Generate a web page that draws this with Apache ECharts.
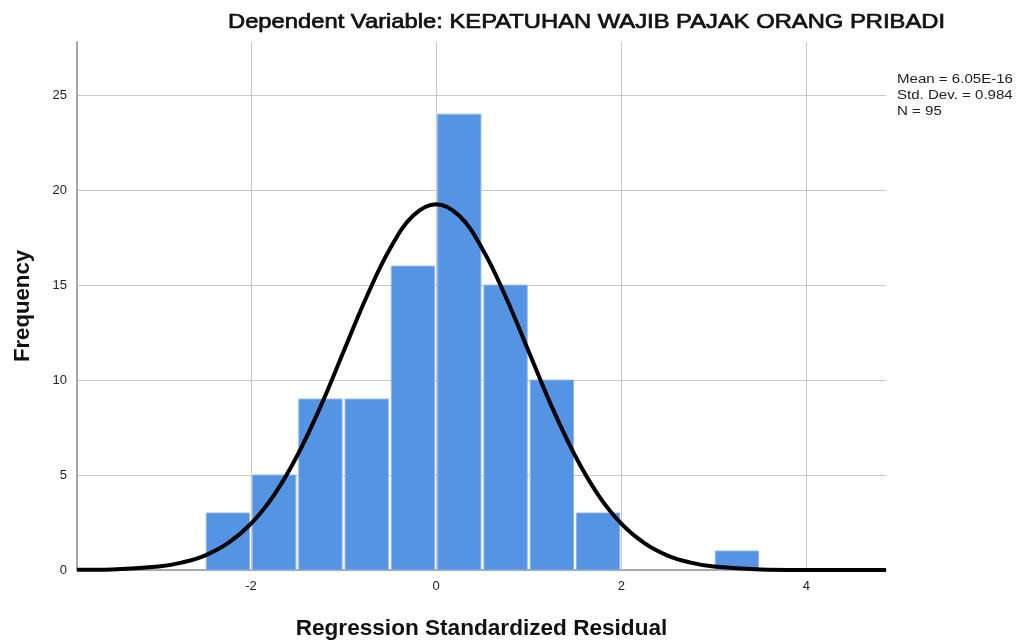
<!DOCTYPE html>
<html>
<head>
<meta charset="utf-8">
<script src="https://cdn.jsdelivr.net/npm/echarts@6/dist/echarts.min.js"></script>
<style>html,body{margin:0;padding:0;background:#fff;}#c{width:1017px;height:641px;}</style>
</head>
<body>
<div id="c"></div>
<script>
// Histogram bins: [start, end]
const binStarts = [-2.5, -2.0, -1.5, -1.0, -0.5, 0.0, 0.5, 1.0, 1.5, 3.0];
const binEnds   = [-2.0, -1.5, -1.0, -0.5, 0.0, 0.5, 1.0, 1.5, 2.0, 3.5];
const counts    = [3, 5, 9, 9, 16, 24, 15, 10, 3, 1];
// Normal curve points
const curveX = [-3.88, -3.5, -3.0, -2.75, -2.5, -2.25, -2.0, -1.75, -1.5, -1.25, -1.0, -0.75, -0.5, -0.25, 0, 0.25, 0.5, 0.75, 1.0, 1.25, 1.5, 1.75, 2.0, 2.25, 2.5, 2.75, 3.0, 3.5, 4.0, 4.86];
const curveY = [0.01, 0.03, 0.18, 0.39, 0.76, 1.41, 2.44, 3.96, 6.03, 8.59, 11.5, 14.4, 16.9, 18.65, 19.26, 18.65, 16.9, 14.4, 11.5, 8.59, 6.03, 3.96, 2.44, 1.41, 0.76, 0.39, 0.18, 0.03, 0.005, 0.0];
const xTickValues = [-2, 0, 2, 4];
const statsLines = ['Mean = 6.05E-16', 'Std. Dev. = 0.984', 'N = 95'];
const titleText = 'Dependent Variable: KEPATUHAN WAJIB PAJAK ORANG PRIBADI';

const chart = echarts.init(document.getElementById('c'));
const font = 'Liberation Sans, Arial, sans-serif';
const barData = counts.map((c, i) => [binStarts[i], binEnds[i], c]);
const lineData = curveX.map((x, i) => [x, curveY[i]]);

const ctx = document.createElement('canvas').getContext('2d');
function widthOf(text, f) { ctx.font = f; return ctx.measureText(text).width; }
const titleFont = '21px ' + font;
const titleScale = 717 / widthOf(titleText, titleFont);
const statsFont = '12px ' + font;
const statsScale = 116 / widthOf(statsLines[0], statsFont);

chart.setOption({
  animation: false,
  backgroundColor: '#fff',
  graphic: [{
    type: 'text', x: 228, y: 12, scaleX: titleScale,
    style: {text: titleText, font: titleFont, fill: '#111', stroke: '#111', lineWidth: 0.7}
  }].concat(statsLines.map((t, i) => ({
    type: 'text', x: 897, y: 74 + i * 16, scaleX: statsScale,
    style: {text: t, font: statsFont, fill: '#222'}
  }))),
  grid: {left: 77, right: 131, top: 42, bottom: 71, outerBoundsMode: 'none', containLabel: false},
  xAxis: {
    type: 'value', min: -3.88, max: 4.86,
    name: 'Regression Standardized Residual', nameLocation: 'middle', nameGap: 47,
    nameTextStyle: {fontFamily: font, fontSize: 22.6, fontWeight: 'bold', color: '#111'},
    axisLine: {show: true, onZero: false, lineStyle: {color: '#a8a8a8', width: 2}},
    axisTick: {show: false},
    splitLine: {show: false},
    axisLabel: {customValues: xTickValues, fontFamily: font, fontSize: 13, color: '#222', margin: 10}
  },
  yAxis: {
    type: 'value', min: 0, max: 27.8, interval: 5,
    name: 'Frequency', nameLocation: 'middle', nameGap: 43,
    nameTextStyle: {fontFamily: font, fontSize: 22.2, fontWeight: 'bold', color: '#111'},
    axisLine: {show: true, onZero: false, lineStyle: {color: '#a8a8a8', width: 2}},
    axisTick: {show: false},
    splitLine: {show: true, showMaxLine: false, lineStyle: {color: '#c8c8c8', width: 1}},
    axisLabel: {fontFamily: font, fontSize: 13, color: '#222', margin: 10, showMaxLabel: false}
  },
  series: [
    {
      type: 'custom',
      data: barData,
      z: 2,
      encode: {x: [0, 1], y: 2},
      renderItem: function (params, api) {
        const p0 = api.coord([api.value(0), api.value(2)]);
        const p1 = api.coord([api.value(1), 0]);
        return {
          type: 'rect',
          shape: {x: p0[0] + 1.5, y: p0[1], width: p1[0] - p0[0] - 3, height: p1[1] - p0[1]},
          style: {fill: '#5594e3', stroke: '#8db6ee', lineWidth: 1}
        };
      },
      markLine: {
        silent: true, symbol: 'none', z: 1,
        label: {show: false},
        lineStyle: {color: '#c8c8c8', width: 1, type: 'solid'},
        data: xTickValues.map(v => ({xAxis: v}))
      }
    },
    {
      type: 'line',
      data: lineData,
      smooth: 0.4,
      symbol: 'none',
      z: 5,
      lineStyle: {color: '#000', width: 4}
    }
  ]
});
</script>
</body>
</html>
